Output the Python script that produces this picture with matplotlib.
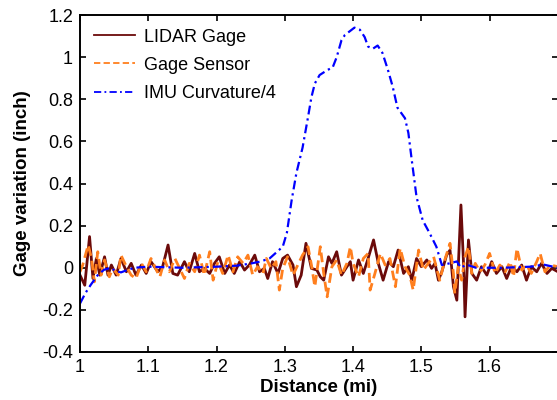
import matplotlib
matplotlib.use("Agg")
import matplotlib.pyplot as plt

plt.rcParams["font.family"] = ["Liberation Sans", "DejaVu Sans"]

# LIDAR gage variation (inch) vs distance (mi)
lidar_x = [1.000, 1.007, 1.014, 1.019, 1.024, 1.029, 1.036, 1.041, 1.046, 1.053,
           1.060, 1.068, 1.075, 1.082, 1.090, 1.097, 1.104, 1.114, 1.121, 1.129,
           1.136, 1.143, 1.153, 1.160, 1.168, 1.175, 1.182, 1.190, 1.197, 1.204,
           1.212, 1.219, 1.226, 1.234, 1.241, 1.248, 1.256, 1.263, 1.270, 1.275,
           1.282, 1.290, 1.297, 1.304, 1.312, 1.317, 1.324, 1.331, 1.339, 1.347,
           1.352, 1.357, 1.364, 1.369, 1.376, 1.383, 1.391, 1.396, 1.400, 1.408,
           1.415, 1.422, 1.430, 1.437, 1.444, 1.452, 1.459, 1.466, 1.474, 1.481,
           1.486, 1.493, 1.500, 1.508, 1.515, 1.520, 1.525, 1.530, 1.537, 1.542,
           1.547, 1.552, 1.558, 1.562, 1.564, 1.569, 1.574, 1.581, 1.588, 1.596,
           1.603, 1.610, 1.618, 1.625, 1.632, 1.640, 1.647, 1.654, 1.661, 1.669,
           1.676, 1.684, 1.691, 1.700]
lidar_y = [-0.035, -0.083, 0.148, -0.051, 0.044, -0.035, 0.052, -0.035, 0.013, -0.035,
           0.044, -0.019, 0.021, -0.035, 0.013, -0.027, 0.029, -0.019, 0.005, 0.108,
           -0.027, -0.035, 0.029, -0.019, 0.068, -0.019, -0.003, -0.027, 0.021, 0.052,
           -0.027, 0.013, -0.027, 0.029, -0.011, 0.013, 0.060, -0.019, -0.003, -0.051,
           0.029, -0.027, 0.044, 0.060, 0.013, -0.090, -0.035, 0.116, -0.003, -0.011,
           -0.043, -0.059, 0.052, 0.021, 0.076, -0.035, 0.005, 0.029, -0.059, 0.037,
           -0.027, 0.044, 0.132, 0.021, -0.059, 0.029, 0.005, 0.084, -0.027, 0.005,
           -0.059, 0.044, 0.005, 0.037, -0.003, 0.021, -0.059, -0.019, 0.060, 0.084,
           -0.090, -0.154, 0.298, 0.005, -0.233, 0.132, -0.027, -0.059, 0.005, -0.035,
           0.029, -0.027, 0.005, -0.051, 0.005, -0.019, 0.013, -0.059, 0.005, -0.019,
           0.021, -0.027, -0.003, -0.019]

# Gage sensor
sensor_x = [1.000, 1.004, 1.012, 1.017, 1.021, 1.026, 1.031, 1.036, 1.043, 1.048,
            1.056, 1.060, 1.068, 1.075, 1.082, 1.090, 1.097, 1.104, 1.112, 1.117,
            1.124, 1.131, 1.139, 1.146, 1.153, 1.160, 1.168, 1.175, 1.182, 1.190,
            1.195, 1.202, 1.209, 1.217, 1.224, 1.231, 1.239, 1.246, 1.253, 1.260,
            1.268, 1.273, 1.280, 1.287, 1.292, 1.297, 1.304, 1.312, 1.319, 1.326,
            1.334, 1.339, 1.344, 1.352, 1.357, 1.362, 1.369, 1.376, 1.383, 1.391,
            1.396, 1.400, 1.408, 1.415, 1.422, 1.425, 1.432, 1.440, 1.447, 1.454,
            1.462, 1.469, 1.476, 1.483, 1.488, 1.496, 1.503, 1.510, 1.518, 1.523,
            1.527, 1.535, 1.542, 1.547, 1.549, 1.554, 1.559, 1.564, 1.569, 1.574,
            1.579, 1.586, 1.593, 1.600, 1.608, 1.615, 1.623, 1.630, 1.635, 1.640,
            1.647, 1.654, 1.661, 1.669, 1.674, 1.681, 1.689, 1.700]
sensor_y = [-0.019, 0.013, 0.108, 0.044, -0.067, 0.076, -0.035, 0.037, -0.043, -0.003,
            -0.035, 0.060, 0.005, -0.035, -0.051, 0.021, -0.019, 0.044, -0.011, -0.043,
            0.037, -0.019, 0.044, -0.003, -0.051, 0.021, -0.019, 0.060, -0.035, 0.076,
            -0.059, 0.029, -0.027, 0.060, -0.019, 0.052, 0.021, 0.060, -0.035, 0.005,
            -0.027, 0.044, -0.003, 0.029, -0.106, -0.003, 0.052, -0.035, 0.013, 0.060,
            0.100, 0.013, -0.090, 0.100, -0.027, -0.138, 0.005, 0.037, -0.035, 0.021,
            0.100, 0.021, -0.043, 0.044, 0.068, -0.106, -0.027, 0.068, 0.013, 0.044,
            -0.090, 0.092, 0.005, -0.035, -0.106, 0.084, -0.011, 0.021, 0.052, -0.011,
            -0.059, 0.044, 0.116, -0.027, -0.122, 0.005, -0.059, 0.052, 0.100, -0.027,
            0.021, -0.019, 0.013, 0.068, -0.027, 0.013, -0.019, 0.029, -0.043, 0.092,
            -0.011, 0.013, -0.027, 0.029, 0.068, -0.019, 0.013, 0.005]

# IMU curvature / 4
imu_x = [1.000, 1.008, 1.016, 1.026, 1.035, 1.045, 1.052, 1.060, 1.070, 1.080,
         1.100, 1.150, 1.200, 1.230, 1.250, 1.265, 1.278, 1.297, 1.303, 1.310,
         1.317, 1.326, 1.334, 1.339, 1.344, 1.351, 1.363, 1.370, 1.376, 1.383,
         1.388, 1.402, 1.410, 1.417, 1.422, 1.429, 1.436, 1.443, 1.451, 1.458,
         1.465, 1.476, 1.481, 1.486, 1.493, 1.502, 1.512, 1.522, 1.530, 1.540,
         1.552, 1.558, 1.566, 1.580, 1.620, 1.660, 1.679, 1.700]
imu_y = [-0.170, -0.120, -0.080, -0.035, -0.010, 0.000, -0.015, -0.022, -0.010, 0.000,
         0.005, 0.000, 0.005, 0.010, 0.020, 0.030, 0.045, 0.100, 0.165, 0.320,
         0.450, 0.570, 0.715, 0.810, 0.875, 0.915, 0.940, 0.950, 1.000, 1.080,
         1.105, 1.140, 1.130, 1.095, 1.050, 1.040, 1.055, 1.020, 0.940, 0.860,
         0.760, 0.710, 0.640, 0.510, 0.335, 0.225, 0.165, 0.100, 0.013, 0.020,
         0.030, 0.000, 0.015, 0.000, 0.000, 0.005, 0.015, 0.000]

x_ticks = [1.0, 1.1, 1.2, 1.3, 1.4, 1.5, 1.6, 1.7]
x_tick_labels = ["1", "1.1", "1.2", "1.3", "1.4", "1.5", "1.6", ""]
y_ticks = [-0.4, -0.2, 0.0, 0.2, 0.4, 0.6, 0.8, 1.0, 1.2]
y_tick_labels = ["-0.4", "-0.2", "0", "0.2", "0.4", "0.6", "0.8", "1", "1.2"]

fig = plt.figure(figsize=(5.57, 4.0), dpi=100)
ax = fig.add_axes([0.1436, 0.12, 0.858, 0.8425])

ax.plot(lidar_x, lidar_y, color="#6b0a0a", linewidth=2.0, label="LIDAR Gage")
ax.plot(sensor_x, sensor_y, color="#ff7f1e", linewidth=2.0, linestyle=(0, (3.5, 1.8)),
        label="Gage Sensor")
ax.plot(imu_x, imu_y, color="#0000ff", linewidth=1.6, linestyle=(0, (4, 1.8, 1, 1.8)),
        label="IMU Curvature/4")

ax.set_xlim(1.0, 1.7)
ax.set_ylim(-0.4, 1.2)
ax.set_xticks(x_ticks)
ax.set_xticklabels(x_tick_labels)
ax.set_yticks(y_ticks)
ax.set_yticklabels(y_tick_labels)
ax.tick_params(direction="in", length=4, width=1.2, labelsize=13,
               top=True, right=True, pad=5)
for spine in ax.spines.values():
    spine.set_linewidth(1.4)

ax.set_xlabel("Distance (mi)", fontsize=13.5, fontweight="bold", labelpad=2)
ax.set_ylabel("Gage variation (inch)", fontsize=13.5, fontweight="bold", labelpad=8)

leg = ax.legend(loc="upper left", frameon=False, fontsize=13, handlelength=2.3,
                handletextpad=0.5, labelspacing=0.62, borderaxespad=0.35)
for line in leg.get_lines():
    line.set_linewidth(1.3)

fig.savefig("out.png", dpi=100)
plt.close(fig)
